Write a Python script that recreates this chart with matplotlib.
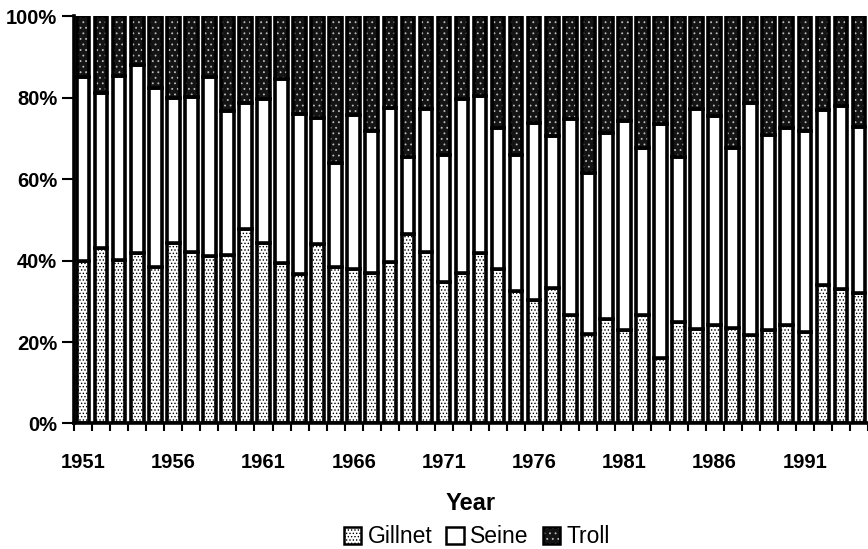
import numpy as np
import matplotlib.pyplot as plt
from matplotlib.patches import Patch

plt.rcParams['font.family'] = ['Liberation Sans', 'DejaVu Sans']
plt.rcParams['hatch.linewidth'] = 0.6

# catch share by gear type (percent of total), 1951-1994
years = list(range(1951, 1995))
gillnet = [39.9, 43.0, 40.2, 41.8, 38.5, 44.4, 42.2, 41.1, 41.5, 47.7,
           44.4, 39.5, 36.6, 44.0, 38.5, 37.9, 36.9, 39.7, 46.5, 42.2,
           34.8, 36.9, 41.9, 37.9, 32.5, 30.3, 33.2, 26.6, 21.9, 25.7,
           23.0, 26.6, 16.2, 25.0, 23.1, 24.2, 23.4, 21.7, 23.0, 24.2,
           22.4, 34.0, 33.0, 32.0]
seine = [45.1, 38.1, 45.1, 46.2, 43.8, 35.5, 37.9, 43.9, 35.2, 30.9,
         35.3, 45.0, 39.3, 31.1, 25.5, 37.9, 34.9, 37.9, 18.9, 35.0,
         31.1, 42.7, 38.5, 34.7, 33.4, 43.4, 37.5, 48.3, 39.7, 45.7,
         51.4, 41.1, 57.3, 40.5, 54.1, 51.3, 44.3, 56.9, 47.8, 48.4,
         49.4, 43.0, 45.0, 40.9]
troll = [15.0, 18.9, 14.7, 12.0, 17.7, 20.1, 19.9, 15.0, 23.3, 21.4,
         20.3, 15.5, 24.1, 24.9, 36.0, 24.2, 28.2, 22.4, 34.6, 22.8,
         34.1, 20.4, 19.6, 27.4, 34.1, 26.3, 29.3, 25.1, 38.4, 28.6,
         25.6, 32.3, 26.5, 34.5, 22.8, 24.5, 32.3, 21.4, 29.2, 27.4,
         28.2, 23.0, 22.0, 27.1]
tick_years = list(range(1951, 1992, 5))

x = np.arange(len(years))
gillnet = np.array(gillnet)
seine = np.array(seine)
troll = np.array(troll)

fig = plt.figure(figsize=(8.68, 5.49), dpi=100)
ax = fig.add_axes([0.0853, 0.2286, 0.9147, 0.7417])

w = 0.7
lw = 2.6
# gillnet: light stipple
ax.bar(x, gillnet, w, color='white', edgecolor='black', hatch='.....', linewidth=lw)
# seine: plain white
ax.bar(x, seine, w, bottom=gillnet, color='white', edgecolor='black', linewidth=lw)
# troll: dark with light dots
ax.bar(x, troll, w, bottom=gillnet + seine, color='#141414', edgecolor='#bbbbbb',
       hatch='...', linewidth=0)
ax.bar(x, troll, w, bottom=gillnet + seine, color='none', edgecolor='black', linewidth=lw)

ax.set_xlim(-0.5, 43.05)
ax.set_ylim(0, 100)
ax.set_yticks([0, 20, 40, 60, 80, 100])
ax.set_yticklabels([f'{v}%' for v in [0, 20, 40, 60, 80, 100]])

ax.set_xticks([years.index(y) for y in tick_years])
ax.set_xticklabels([str(y) for y in tick_years])
ax.set_xticks(np.arange(-0.5, len(years), 1), minor=True)
ax.tick_params(axis='x', which='major', length=0, pad=21)
ax.tick_params(axis='x', which='minor', length=6, width=1.5, direction='out')
ax.tick_params(axis='y', length=9, width=1.5, pad=3)
for lab in ax.get_xticklabels() + ax.get_yticklabels():
    lab.set_fontsize(14.5)
    lab.set_fontweight('bold')

for s in ['top', 'right']:
    ax.spines[s].set_visible(False)
ax.spines['left'].set_linewidth(2.6)
ax.spines['bottom'].set_linewidth(2.6)

ax.set_xlabel('Year', fontsize=17, fontweight='bold')
ax.xaxis.set_label_coords(0.5, -0.197)
ax.xaxis.label.set_va('center')

handles = [Patch(facecolor='white', edgecolor='black', hatch='.....', linewidth=1.8),
           Patch(facecolor='white', edgecolor='black', linewidth=1.8),
           (Patch(facecolor='#141414', edgecolor='#bbbbbb', hatch='...', linewidth=0),
            Patch(facecolor='none', edgecolor='black', linewidth=1.8))]
fig.legend(handles, ['Gillnet', 'Seine', 'Troll'], loc='center',
           bbox_to_anchor=(0.5495, 0.022), ncol=3, frameon=False, fontsize=16.5,
           handlelength=0.75, handleheight=0.75, handletextpad=0.3, columnspacing=0.6,
           borderpad=0, borderaxespad=0)

plt.savefig('out.png', dpi=100)
